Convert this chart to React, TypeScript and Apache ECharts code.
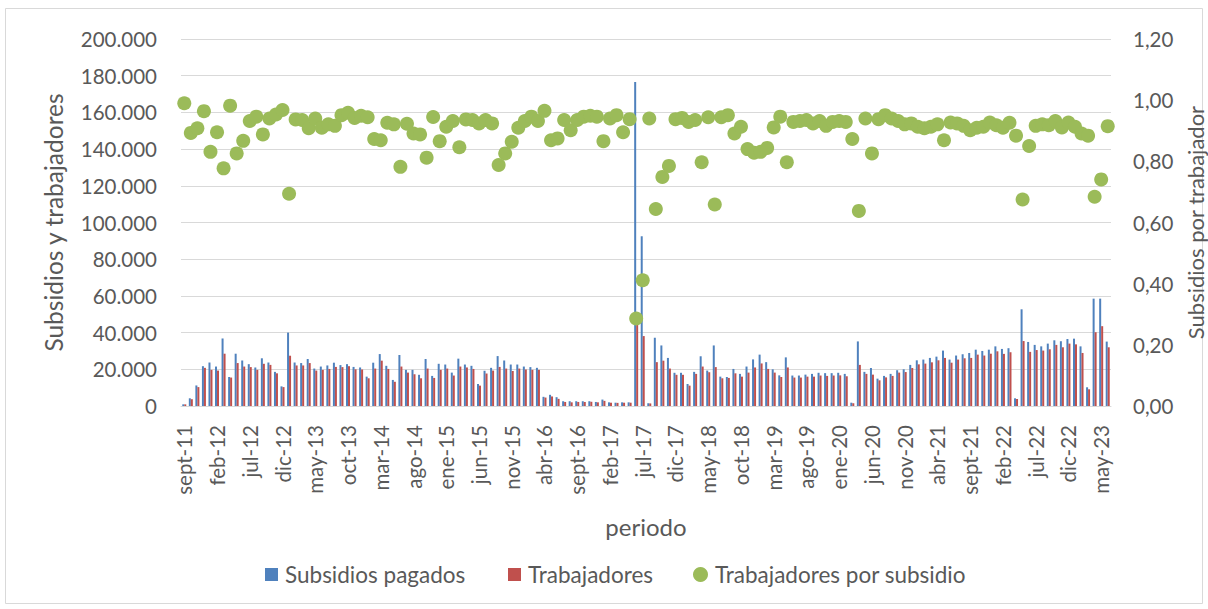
import React, { useEffect, useRef } from "react";
import * as echarts from "echarts";

// Month abbreviations (Spanish) used for the category labels
const MONTHS = ["ene", "feb", "mar", "abr", "may", "jun", "jul", "ago", "sept", "oct", "nov", "dic"];
const START_YEAR = 2011;
const START_MONTH = 8; // sept
const COUNT = 142; // sept-11 .. jun-23

const categories: string[] = Array.from({ length: COUNT }, (_, i) => {
  const m = (START_MONTH + i) % 12;
  const y = START_YEAR + Math.floor((START_MONTH + i) / 12);
  return `${MONTHS[m]}-${String(y % 100).padStart(2, "0")}`;
});

const subsidiosPagados = [
  900, 4200, 11200, 21700, 23700, 21500, 36800, 15800, 28500, 24800,
  22800, 21000, 26000, 23700, 18600, 10700, 40000, 23700, 23400, 25600,
  20400, 21500, 22100, 23600, 22300, 22800, 21300, 21000, 16000, 23600,
  28300, 21900, 14200, 27800, 19700, 19700, 17000, 25600, 16400, 23000,
  22600, 18200, 25800, 22600, 21900, 12000, 19200, 20800, 27200, 24800,
  22600, 22600, 21500, 21200, 20800, 5000, 6100, 4800, 2600, 2600,
  2600, 2600, 2600, 2200, 3500, 2000, 1800, 2000, 2000, 176500,
  92500, 1500, 37200, 33000, 26200, 18100, 18100, 12000, 18600, 27100,
  19300, 33000, 16000, 15800, 20200, 17500, 21500, 25400, 28000, 23900,
  20000, 16700, 26500, 16600, 16600, 17100, 17500, 18100, 17900, 17900,
  18100, 17500, 1800, 35200, 18600, 20700, 14900, 16400, 17500, 19500,
  20000, 22400, 24900, 25300, 26200, 26900, 30200, 25300, 27500, 28200,
  28900, 30700, 30000, 30700, 32500, 31100, 31500, 4200, 52700, 34900,
  33300, 32500, 34000, 35800, 35300, 36500, 36700, 32500, 10200, 58500,
  58500, 35100,
];

const trabajadores = [
  890, 3700, 10300, 20800, 19700, 19300, 28500, 15500, 23400, 21500,
  21200, 19700, 23000, 22400, 17800, 10300, 27400, 22100, 22100, 23400,
  19300, 19700, 20200, 21300, 21200, 21700, 20000, 19900, 15100, 20400,
  24700, 20200, 13200, 21500, 18200, 17300, 15100, 20400, 15300, 19700,
  20400, 16600, 21500, 21000, 20200, 11100, 17700, 19300, 21300, 20400,
  19100, 20400, 19900, 19700, 19700, 4600, 5200, 3900, 2200, 2000,
  2200, 2200, 2300, 2000, 2800, 1800, 1700, 1800, 1800, 50000,
  38100, 1400, 23900, 24700, 20400, 17000, 17000, 11100, 17500, 21500,
  18400, 21200, 15100, 15300, 17800, 16000, 18200, 21000, 23200, 20200,
  18200, 15800, 21000, 15500, 15500, 16000, 16000, 16600, 16400, 16600,
  16700, 16200, 1500, 22400, 17500, 17100, 14000, 15600, 16400, 18200,
  18500, 20700, 22700, 23100, 23800, 24900, 26200, 23600, 25300, 26000,
  26200, 28000, 27500, 28500, 29800, 28400, 29300, 3800, 35400, 29500,
  30500, 30200, 30900, 33300, 32000, 34000, 33600, 28900, 9100, 40200,
  43500, 32000,
];

const trabajadoresPorSubsidio = [
  0.990, 0.893, 0.908, 0.964, 0.831, 0.895, 0.777, 0.982, 0.826, 0.867,
  0.932, 0.946, 0.888, 0.940, 0.953, 0.968, 0.694, 0.937, 0.935, 0.908,
  0.940, 0.910, 0.921, 0.916, 0.951, 0.959, 0.942, 0.949, 0.944, 0.873,
  0.869, 0.926, 0.921, 0.782, 0.923, 0.891, 0.888, 0.812, 0.945, 0.866,
  0.913, 0.932, 0.846, 0.937, 0.935, 0.924, 0.935, 0.924, 0.788, 0.826,
  0.864, 0.910, 0.932, 0.946, 0.932, 0.965, 0.869, 0.875, 0.935, 0.902,
  0.935, 0.946, 0.949, 0.946, 0.866, 0.940, 0.951, 0.895, 0.938, 0.286,
  0.411, 0.940, 0.644, 0.749, 0.785, 0.938, 0.942, 0.929, 0.935, 0.797,
  0.944, 0.659, 0.944, 0.951, 0.891, 0.913, 0.840, 0.828, 0.831, 0.844,
  0.911, 0.946, 0.797, 0.929, 0.932, 0.935, 0.924, 0.932, 0.916, 0.929,
  0.932, 0.929, 0.873, 0.638, 0.940, 0.826, 0.938, 0.951, 0.940, 0.932,
  0.921, 0.924, 0.913, 0.908, 0.913, 0.921, 0.869, 0.927, 0.924, 0.916,
  0.902, 0.910, 0.913, 0.927, 0.918, 0.910, 0.926, 0.884, 0.675, 0.850,
  0.916, 0.921, 0.918, 0.932, 0.911, 0.927, 0.913, 0.891, 0.884, 0.684,
  0.741, 0.915,
];

const SERIES_NAMES = ["Subsidios pagados", "Trabajadores", "Trabajadores por subsidio"];
const COLORS = ["#4F81BD", "#C0504D", "#9BBB59"];
const TEXT = "#595959";
const FONT = "Lato";

const fmtLeft = (v: number) => (v === 0 ? "0" : v.toLocaleString("de-DE"));
const fmtRight = (v: number) => v.toFixed(2).replace(".", ",");

export default function App() {
  const ref = useRef<HTMLDivElement>(null);

  useEffect(() => {
    if (!ref.current) return;
    const chart = echarts.init(ref.current, undefined, { renderer: "svg" });
    const legendText = { color: TEXT, fontSize: 22.5, fontFamily: FONT, padding: [0, 0, 0, 2] };
    const legendBase = { top: 563, padding: 0, selectedMode: false, textStyle: legendText };
    chart.setOption({
      animation: false,
      backgroundColor: "#ffffff",
      textStyle: { fontFamily: FONT },
      graphic: [
        {
          type: "rect",
          shape: { x: 5.5, y: 8.5, width: 1197, height: 595 },
          style: { fill: "none", stroke: "#d9d9d9", lineWidth: 1 },
          silent: true,
        },
      ],
      legend: [
        {
          ...legendBase,
          data: [{ name: SERIES_NAMES[0], icon: "rect" }],
          left: 265, itemWidth: 13, itemHeight: 13,
        },
        {
          ...legendBase,
          data: [{ name: SERIES_NAMES[1], icon: "rect" }],
          left: 508, itemWidth: 13, itemHeight: 13,
        },
        {
          ...legendBase,
          data: [{ name: SERIES_NAMES[2], icon: "circle" }],
          left: 693, itemWidth: 15, itemHeight: 15,
        },
      ],
      grid: {
        left: 181,
        right: 97,
        top: 39,
        bottom: 203,
        containLabel: false,
        outerBoundsMode: "none",
      },
      xAxis: {
        type: "category",
        data: categories,
        name: "periodo",
        nameLocation: "middle",
        nameGap: 108,
        nameTextStyle: { color: TEXT, fontSize: 24, fontFamily: FONT },
        axisLine: { show: true, lineStyle: { color: "#d9d9d9", width: 1 } },
        axisTick: { show: false },
        axisLabel: {
          interval: 4,
          rotate: 90,
          margin: 19,
          color: TEXT,
          fontSize: 20.5,
          fontFamily: FONT,
        },
        splitLine: { show: false },
      },
      yAxis: [
        {
          type: "value",
          min: 0,
          max: 200000,
          interval: 20000,
          name: "Subsidios y trabajadores",
          nameLocation: "middle",
          nameGap: 115,
          nameTextStyle: { color: TEXT, fontSize: 24.5, fontFamily: FONT },
          axisLine: { show: false },
          axisTick: { show: false },
          axisLabel: { formatter: fmtLeft, color: TEXT, fontSize: 20.5, fontFamily: FONT, margin: 24 },
          splitLine: { show: true, lineStyle: { color: "#d9d9d9", width: 1 } },
        },
        {
          type: "value",
          min: 0,
          max: 1.2,
          interval: 0.2,
          name: "Subsidios por trabajador",
          nameLocation: "middle",
          nameGap: 68,
          nameTextStyle: { color: TEXT, fontSize: 22, fontFamily: FONT },
          axisLine: { show: false },
          axisTick: { show: false },
          axisLabel: { formatter: fmtRight, color: TEXT, fontSize: 20.5, fontFamily: FONT, margin: 22 },
          splitLine: { show: false },
        },
      ],
      series: [
        {
          name: SERIES_NAMES[0],
          type: "bar",
          data: subsidiosPagados,
          barWidth: 2,
          barGap: "0%",
          itemStyle: { color: COLORS[0] },
        },
        {
          name: SERIES_NAMES[1],
          type: "bar",
          data: trabajadores,
          barWidth: 2,
          barGap: "0%",
          itemStyle: { color: COLORS[1] },
        },
        {
          name: SERIES_NAMES[2],
          type: "scatter",
          yAxisIndex: 1,
          data: trabajadoresPorSubsidio,
          symbol: "circle",
          symbolSize: 14,
          itemStyle: { color: COLORS[2], opacity: 1 },
          z: 3,
        },
      ],
    });
    return () => chart.dispose();
  }, []);

  return (
    <div
      ref={ref}
      style={{ position: "fixed", left: 0, top: 0, width: 1208, height: 609 }}
    />
  );
}
